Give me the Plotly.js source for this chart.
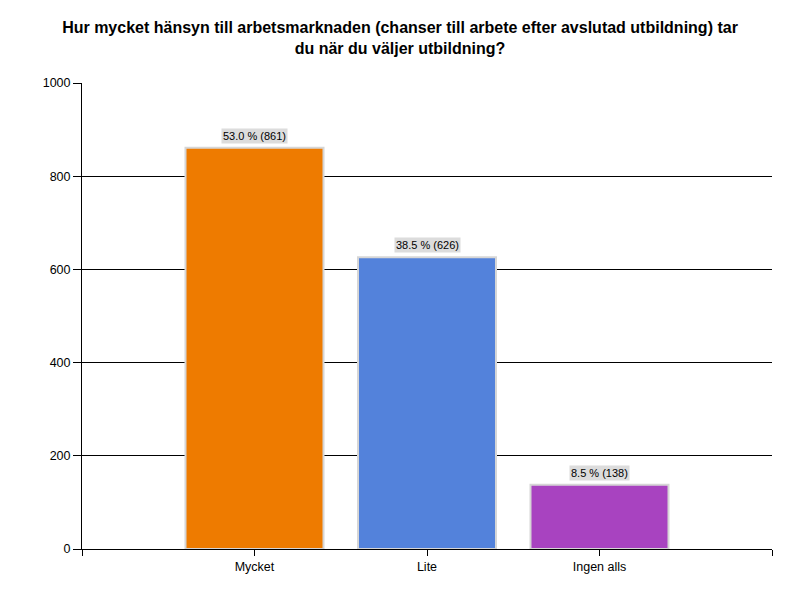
<!DOCTYPE html>
<html>
<head>
<meta charset="utf-8">
<script src="https://cdn.plot.ly/plotly-3.0.1.min.js"></script>
<style>body{margin:0;background:#fff}#chart{width:800px;height:600px}</style>
</head>
<body>
<div id="chart"></div>
<script>
var categories = ['Mycket', 'Lite', 'Ingen alls'];
var counts = [861, 626, 138];
var percents = [53.0, 38.5, 8.5];
var barColors = ['#EE7B00', '#5382DB', '#A843C0'];
var yTicks = [0, 200, 400, 600, 800, 1000];

var xs = categories.map(function (c, i) { return i; });

var trace = {
  type: 'bar',
  x: xs,
  y: counts,
  width: 0.8,
  marker: { color: barColors, line: { color: '#D6D6D6', width: 2 } },
  hoverinfo: 'none'
};

var annotations = xs.map(function (x, i) {
  return {
    x: x, y: counts[i], xref: 'x', yref: 'y',
    text: percents[i].toFixed(1) + ' % (' + counts[i] + ')',
    showarrow: false, yanchor: 'bottom', yshift: 4,
    bgcolor: '#DCDCDC', borderpad: 1,
    font: { family: 'Liberation Sans, Arial, sans-serif', size: 11, color: '#000' }
  };
});

var layout = {
  width: 800, height: 600,
  margin: { l: 82, r: 28, t: 83, b: 51 },
  paper_bgcolor: '#fff', plot_bgcolor: '#fff',
  showlegend: false,
  title: {
    text: '<b>Hur mycket hänsyn till arbetsmarknaden (chanser till arbete efter avslutad utbildning) tar<br>du när du väljer utbildning?</b>',
    x: 0.5, xanchor: 'center', y: 0.945, yanchor: 'middle',
    font: { family: 'Liberation Sans, Arial, sans-serif', size: 16, color: '#000' }
  },
  xaxis: {
    range: [-1, 3], tickvals: [-1, 0, 1, 2, 3], ticktext: [''].concat(categories, ['']),
    showgrid: false, zeroline: false, showline: true, linecolor: '#000', linewidth: 1,
    ticks: 'outside', ticklen: 6, tickcolor: '#000',
    tickfont: { family: 'Liberation Sans, Arial, sans-serif', size: 12.5, color: '#000' },
    fixedrange: true
  },
  yaxis: {
    range: [0, 1000], tickvals: yTicks,
    showgrid: true, gridcolor: '#000', gridwidth: 1, zeroline: false,
    showline: true, linecolor: '#000', linewidth: 1,
    ticks: 'outside', ticklen: 8, tickcolor: '#000',
    tickfont: { family: 'Liberation Sans, Arial, sans-serif', size: 12.5, color: '#000' },
    fixedrange: true
  },
  annotations: annotations,
  bargap: 0
};

Plotly.newPlot('chart', [trace], layout, { displayModeBar: false, staticPlot: true });
</script>
</body>
</html>
